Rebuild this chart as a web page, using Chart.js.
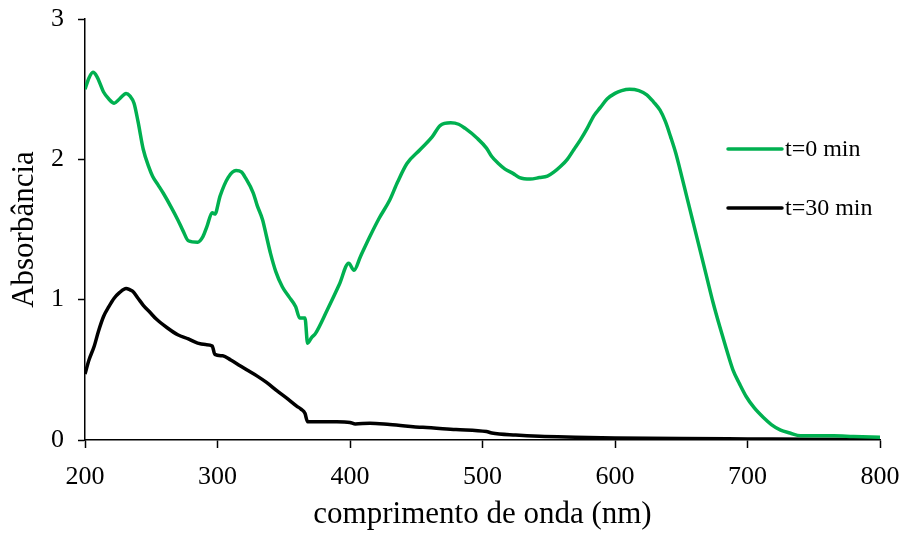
<!DOCTYPE html>
<html>
<head>
<meta charset="utf-8">
<script src="https://cdn.jsdelivr.net/npm/chart.js@4"></script>
<style>
  html, body { margin: 0; padding: 0; background: #fff; }
  #wrap { width: 907px; height: 533px; }
</style>
</head>
<body>
<div id="wrap"><canvas id="mainChart" width="907" height="533"></canvas></div>
<script>
// espectros UV-Vis
const wlT0 = [200, 203, 206, 209, 214, 218, 222, 226, 231, 234, 237, 240, 244, 248, 251, 255, 259, 265, 270, 274, 278, 285, 289, 292, 296, 298, 302, 308, 314, 318, 321, 327, 330, 334, 337, 340, 344, 349, 354, 359, 362, 366, 368, 371, 374, 383, 392, 399, 403, 408, 415, 422, 430, 436, 443, 453, 462, 468, 476, 482, 487, 496, 503, 507, 512, 517, 523, 528, 536, 543, 549, 554, 559, 564, 569, 574, 579, 584, 589, 594, 600, 605, 611, 618, 624, 629, 634, 638, 642, 646, 649, 654, 659, 664, 669, 674, 679, 684, 689, 694, 699, 705, 712, 718, 725, 732, 740, 750, 765, 780, 800];
const absT0 = [2.50, 2.58, 2.62, 2.59, 2.48, 2.43, 2.40, 2.43, 2.47, 2.45, 2.40, 2.27, 2.07, 1.95, 1.88, 1.82, 1.76, 1.66, 1.57, 1.49, 1.42, 1.41, 1.45, 1.52, 1.62, 1.61, 1.74, 1.87, 1.92, 1.91, 1.87, 1.76, 1.67, 1.57, 1.45, 1.33, 1.20, 1.09, 1.02, 0.95, 0.87, 0.87, 0.69, 0.73, 0.76, 0.93, 1.11, 1.26, 1.21, 1.31, 1.45, 1.58, 1.71, 1.84, 1.97, 2.07, 2.16, 2.24, 2.26, 2.25, 2.22, 2.15, 2.08, 2.02, 1.97, 1.93, 1.90, 1.87, 1.86, 1.87, 1.88, 1.91, 1.95, 2.00, 2.07, 2.14, 2.22, 2.31, 2.37, 2.43, 2.47, 2.49, 2.50, 2.49, 2.46, 2.41, 2.35, 2.27, 2.16, 2.04, 1.93, 1.74, 1.55, 1.36, 1.17, 0.98, 0.81, 0.65, 0.50, 0.40, 0.31, 0.23, 0.16, 0.11, 0.07, 0.05, 0.03, 0.03, 0.03, 0.025, 0.02];

const wlT30 = [200, 203, 207, 210, 214, 218, 222, 226, 231, 234, 236, 240, 244, 249, 254, 262, 270, 278, 285, 291, 296, 298, 304, 310, 316, 322, 330, 337, 345, 352, 360, 363, 366, 368, 380, 390, 400, 404, 415, 430, 455, 480, 503, 507, 525, 543, 570, 600, 650, 700, 750, 800];
const absT30 = [0.47, 0.57, 0.67, 0.77, 0.88, 0.95, 1.01, 1.05, 1.08, 1.07, 1.06, 1.01, 0.96, 0.91, 0.86, 0.80, 0.75, 0.72, 0.69, 0.68, 0.67, 0.61, 0.60, 0.57, 0.535, 0.50, 0.455, 0.41, 0.35, 0.30, 0.24, 0.22, 0.19, 0.13, 0.13, 0.13, 0.125, 0.114, 0.12, 0.11, 0.09, 0.075, 0.06, 0.05, 0.035, 0.026, 0.02, 0.015, 0.01, 0.008, 0.006, 0.005];

const seriesLabels = ['t=0 min', 't=30 min'];
const seriesColors = ['#00B050', '#000000'];
const xTicks = [200, 300, 400, 500, 600, 700, 800];
const yTicks = [0, 1, 2, 3];

const serif = "'Liberation Serif', 'Times New Roman', serif";

function toPoints(xs, ys) {
    return xs.map((x, i) => ({ x: x, y: ys[i] }));
}

// legenda desenhada dentro da área do gráfico
const insideLegend = {
    id: 'insideLegend',
    afterDatasetsDraw(chart) {
        const c = chart.ctx;
        const area = chart.chartArea;
        const x0 = area.right - 152;
        const rows = [area.top + 130, area.top + 189];
        c.save();
        c.font = "24px " + serif;
        c.textBaseline = 'middle';
        chart.data.datasets.forEach((ds, i) => {
            const y = rows[i];
            c.strokeStyle = ds.borderColor;
            c.lineWidth = 3.5;
            c.lineCap = 'round';
            c.beginPath();
            c.moveTo(x0, y);
            c.lineTo(x0 + 54, y);
            c.stroke();
            c.fillStyle = '#000';
            c.fillText(ds.label, x0 + 57, y + 1);
        });
        c.restore();
    }
};

const ctx = document.getElementById('mainChart').getContext('2d');
const chart = new Chart(ctx, {
    type: 'line',
    data: {
        datasets: [
            {
                label: seriesLabels[0],
                data: toPoints(wlT0, absT0),
                borderColor: seriesColors[0],
                borderWidth: 3.5,
                pointRadius: 0,
                cubicInterpolationMode: 'monotone',
                fill: false
            },
            {
                label: seriesLabels[1],
                data: toPoints(wlT30, absT30),
                borderColor: seriesColors[1],
                borderWidth: 3.5,
                pointRadius: 0,
                cubicInterpolationMode: 'monotone',
                fill: false
            }
        ]
    },
    options: {
        responsive: false,
        animation: false,
        events: [],
        layout: { padding: { left: 0, right: 27, top: 19, bottom: 0 } },
        plugins: {
            legend: { display: false },
            tooltip: { enabled: false }
        },
        scales: {
            x: {
                type: 'linear',
                min: 200,
                max: 800,
                afterBuildTicks(scale) { scale.ticks = xTicks.map(v => ({ value: v })); },
                afterFit(scale) {
                    scale.height = 93;
                    scale.paddingLeft = 0;
                    scale.paddingRight = 0;
                },
                grid: { drawOnChartArea: false, drawTicks: true, tickLength: 8, tickWidth: 1.5, tickColor: '#000' },
                border: { color: '#000', width: 1.5 },
                ticks: { color: '#000', padding: 14, maxRotation: 0, font: { family: serif, size: 26 } },
                title: {
                    display: true,
                    text: 'comprimento de onda (nm)',
                    color: '#000',
                    font: { family: serif, size: 31 },
                    padding: { top: 2, bottom: 0 }
                }
            },
            y: {
                min: 0,
                max: 3,
                afterBuildTicks(scale) { scale.ticks = yTicks.map(v => ({ value: v })); },
                afterFit(scale) {
                    scale.width = 85;
                    scale.paddingTop = 0;
                    scale.paddingBottom = 0;
                },
                grid: { drawOnChartArea: false, drawTicks: true, tickLength: 7, tickWidth: 1.5, tickColor: '#000' },
                border: { color: '#000', width: 1.5 },
                ticks: { color: '#000', padding: 14, font: { family: serif, size: 26 } },
                title: {
                    display: true,
                    text: 'Absorbância',
                    color: '#000',
                    font: { family: serif, size: 31 },
                    padding: { top: 6, bottom: 0 }
                }
            }
        }
    },
    plugins: [insideLegend]
});
</script>
</body>
</html>
